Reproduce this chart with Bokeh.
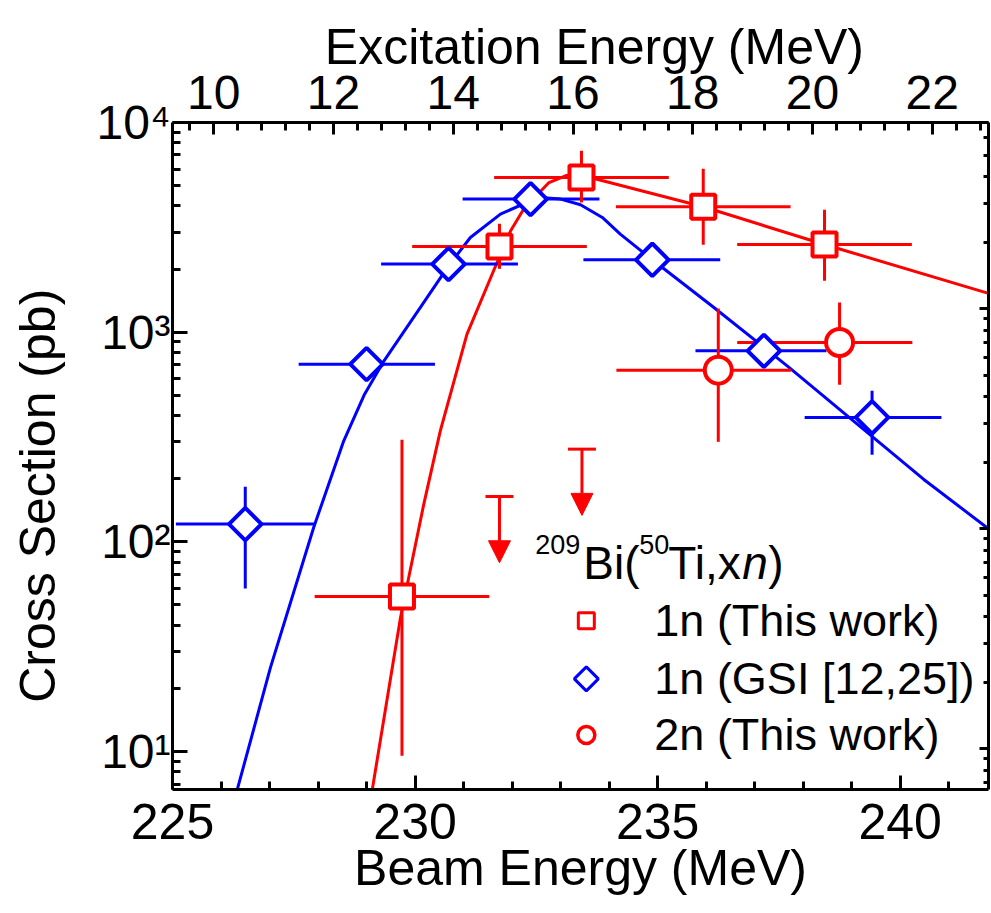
import numpy as np
from bokeh.plotting import figure
from bokeh.models import (Range1d, LinearAxis, LogAxis, LogScale, FixedTicker,
                          CustomJSTickFormatter, ColumnDataSource, Arrow, NormalHead)
from bokeh.core.properties import value
from bokeh.embed import file_html
from bokeh.resources import INLINE

RED = "#ff0000"
BLUE = "#0000ff"
FONT = "Liberation Sans"
NBSP = "\u00a0"

# ---- data: 1n (This work), red squares ----
sq_e = [229.73, 231.74, 233.43, 235.94, 238.44]
sq_s = [54.9, 2563, 5467, 3962, 2619]
sq_s_lo = [9.54, 2005, 4153, 2611, 1758]
sq_s_hi = [306.7, 3288, 7328, 6014, 3833]
sq_e_lo = [227.93, 229.94, 231.63, 234.14, 236.64]
sq_e_hi = [231.53, 233.54, 235.23, 237.74, 240.24]

# ---- data: 2n (This work), red circles ----
ci_e = [236.25, 238.75]
ci_s = [659, 893]
ci_s_lo = [300, 561]
ci_s_hi = [1297, 1385]
ci_e_lo = [234.15, 236.64]
ci_e_hi = [237.75, 240.25]

# ---- data: 1n (GSI), blue diamonds ----
di_e = [226.50, 229.00, 230.69, 232.38, 234.89, 237.19, 239.42]
di_s = [121.5, 704, 2112, 4313, 2214, 815, 392]
di_s_lo = [59.9, 704, 2112, 4313, 2214, 815, 260]
di_s_hi = [183, 704, 2112, 4313, 2214, 815, 525]
di_e_lo = [225.07, 227.60, 229.30, 230.98, 233.47, 235.78, 238.03]
di_e_hi = [227.93, 230.41, 232.12, 233.80, 236.29, 238.48, 240.85]

# ---- data: 2n upper limits ----
ul_e = [231.74, 233.44]
ul_s = [164.5, 276.8]

# ---- fitted curves ----
blue_fit_e = [226.27, 227.02, 227.91, 228.53, 228.95, 229.36, 230.11, 230.69, 231.14, 231.76,
              232.38, 232.58, 233.00, 233.41, 233.86, 234.23, 234.89, 236.16, 237.67,
              238.91, 240.48, 241.82]
blue_fit_s = [5.8, 25.2, 117.1, 303.3, 501, 730, 1312, 2073, 2828, 3657,
              4232, 4388, 4312, 4051, 3524, 2936, 2214, 1311, 691,
              399, 199, 115.4]
red_fit_e = [229.08, 229.70, 230.18, 230.52, 231.07, 231.69, 231.97, 232.24, 232.76,
             233.10, 233.31, 235.94, 238.44, 241.82]
red_fit_s = [5.82, 43.6, 151.4, 338.5, 979, 2149, 3045, 3864, 5173,
             5569, 5692, 3962, 2619, 1532]

# ---- axes ----
x_ticks = [225, 230, 235, 240]
x_minor = [v for v in range(226, 242) if v % 5 != 0]
top_ticks = [10, 12, 14, 16, 18, 20, 22]
top_tick_labels = ["10", "12", "14", "16", "18", "20", "22"]
top_minor = [round(v, 1) for v in np.arange(9.6, 23.0, 0.4)
             if abs(round(v, 1) / 2 - round(round(v, 1) / 2)) > 1e-6]
y_ticks = [10, 100, 1000, 10000]
y_tick_labels = ["10\u00b9", "10\u00b2", "10\u00b3", "10\u2074"]
y_minor = [m * 10 ** k for k in range(0, 4) for m in range(2, 10)]
right_ticks = [10, 100, 1000]

x_title = "Beam Energy (MeV)"
top_title = "Excitation Energy (MeV)"
y_title = "Cross Section (pb)"
legend_labels = ["1n (This work)", "1n (GSI [12,25])", "2n (This work)"]

p = figure(frame_width=816, frame_height=667,
           x_range=Range1d(225, 241.82), y_range=Range1d(6.59, 1e4),
           y_axis_type="log", output_backend="svg", toolbar_location=None,
           min_border_left=172, min_border_top=122, min_border_right=3,
           min_border_bottom=0)
p.xgrid.visible = False
p.ygrid.visible = False
p.outline_line_color = None
p.background_fill_color = "white"
p.border_fill_color = "white"

p.extra_x_ranges = {"top": Range1d(9.310, 22.94)}
p.extra_y_ranges = {"right": Range1d(6.53, 7027)}
p.extra_y_scales = {"right": LogScale()}

bottom = p.xaxis[0]
left = p.yaxis[0]
top = LinearAxis(x_range_name="top")
right = LogAxis(y_range_name="right")
p.add_layout(top, "above")
p.add_layout(right, "right")

bottom.ticker = FixedTicker(ticks=x_ticks, minor_ticks=x_minor)
top.ticker = FixedTicker(ticks=top_ticks, minor_ticks=top_minor)
top.major_label_overrides = dict(zip(top_ticks, top_tick_labels))
left.ticker = FixedTicker(ticks=y_ticks, minor_ticks=y_minor)
left.major_label_overrides = dict(zip(y_ticks, y_tick_labels))
right.ticker = FixedTicker(ticks=right_ticks, minor_ticks=y_minor)
right.formatter = CustomJSTickFormatter(code="return ''")

for ax in (bottom, top, left, right):
    ax.axis_line_width = 3
    ax.axis_line_color = "black"
    ax.major_tick_line_width = 3
    ax.minor_tick_line_width = 3
    ax.major_tick_out = 0
    ax.minor_tick_out = 0
    ax.major_label_text_font = FONT
    ax.axis_label_text_font = FONT
    ax.axis_label_text_font_style = "normal"
    ax.axis_label_text_font_size = "50px"
    ax.major_label_text_color = "black"
    ax.axis_label_text_color = "black"

bottom.major_tick_in = 14
bottom.minor_tick_in = 8
bottom.major_label_text_font_size = "50px"
bottom.major_label_standoff = 14
bottom.axis_label = x_title
bottom.axis_label_standoff = -2

top.major_tick_in = 12
top.minor_tick_in = 8
top.major_label_text_font_size = "48px"
top.major_label_standoff = 14
# leading no-break spaces nudge the centred title to the right, as in the picture
top.axis_label = NBSP * 2 + top_title
top.axis_label_standoff = -2

left.major_tick_in = 15
left.minor_tick_in = 8
left.major_label_text_font_size = "48px"
left.major_label_standoff = 2
# trailing no-break spaces nudge the centred title downwards, as in the picture
left.axis_label = y_title + NBSP * 5 + "\u2009"
left.axis_label_standoff = 27

right.major_tick_in = 9
right.minor_tick_in = 5
right.major_label_standoff = 0

# ---- curves ----
p.line(blue_fit_e, blue_fit_s, line_color=BLUE, line_width=3)
p.line(red_fit_e, red_fit_s, line_color=RED, line_width=3)

src_sq = ColumnDataSource(dict(e=sq_e, s=sq_s, e_lo=sq_e_lo, e_hi=sq_e_hi, s_lo=sq_s_lo, s_hi=sq_s_hi))
src_ci = ColumnDataSource(dict(e=ci_e, s=ci_s, e_lo=ci_e_lo, e_hi=ci_e_hi, s_lo=ci_s_lo, s_hi=ci_s_hi))
src_di = ColumnDataSource(dict(e=di_e, s=di_s, e_lo=di_e_lo, e_hi=di_e_hi, s_lo=di_s_lo, s_hi=di_s_hi))

for src, col in ((src_di, BLUE), (src_sq, RED), (src_ci, RED)):
    p.segment(x0="e_lo", y0="s", x1="e_hi", y1="s", source=src, line_color=col, line_width=3)
    p.segment(x0="e", y0="s_lo", x1="e", y1="s_hi", source=src, line_color=col, line_width=3)

p.scatter("e", "s", source=src_di, marker="square", angle=np.pi / 4, size=23,
          line_color=BLUE, line_width=4, fill_color="white")
p.scatter("e", "s", source=src_sq, marker="square", size=24,
          line_color=RED, line_width=4, fill_color="white")
p.scatter("e", "s", source=src_ci, marker="circle", size=27,
          line_color=RED, line_width=4, fill_color="white")

# ---- upper limits ----
for e, s in zip(ul_e, ul_s):
    p.add_layout(Arrow(end=NormalHead(size=22, fill_color=RED, line_color=RED, line_width=1),
                       x_start=e, y_start=s, x_end=e, y_end=s / 2.07,
                       line_color=RED, line_width=3))
p.scatter(ul_e, ul_s, marker="dash", size=28, line_color=RED, line_width=3)

# ---- legend (hand built) ----
LEG_E = 233.53
LEG_HEAD_S = 66.4
LEG_ROW_S = [42.0, 22.2, 12.0]

def txt(text, dx, dy, size, style="normal"):
    p.text(x=[LEG_E], y=[LEG_HEAD_S], text=[text], x_offset=dx, y_offset=dy,
           text_font=value(FONT), text_font_size=value(size), text_font_style=style,
           text_align="left", text_baseline="alphabetic", text_color="black")

txt("209", -51, -35, "27px")
txt("Bi(", -3, -16, "46px")
txt("50", 53, -35, "27px")
txt("Ti,x", 82, -16, "46px")
txt("n", 156, -16, "46px", "italic")
txt(")", 182, -16, "46px")

p.scatter([LEG_E], [LEG_ROW_S[0]], marker="square", size=16, line_color=RED, line_width=3, fill_color="white")
p.scatter([LEG_E], [LEG_ROW_S[1]], marker="square", angle=np.pi / 4, size=17, line_color=BLUE, line_width=3, fill_color="white")
p.scatter([LEG_E], [LEG_ROW_S[2]], marker="circle", size=17, line_color=RED, line_width=3.5, fill_color="white")
for lab, s in zip(legend_labels, LEG_ROW_S):
    p.text(x=[LEG_E], y=[s], text=[lab], x_offset=68, y_offset=0,
           text_font=value(FONT), text_font_size=value("45px"),
           text_align="left", text_baseline="alphabetic", text_color="black")

open("out.html", "w").write(file_html(p, INLINE))
